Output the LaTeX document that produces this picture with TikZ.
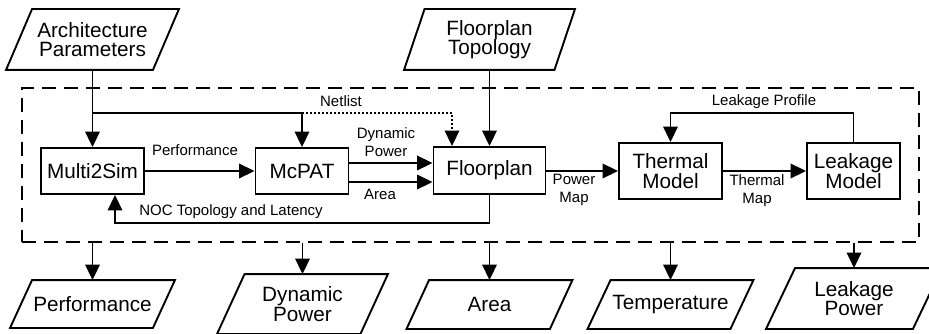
\documentclass[tikz,border=0pt]{standalone}
\usepackage{fontspec}
\setmainfont{Liberation Sans}
\usetikzlibrary{arrows.meta}
\newcommand\pgram[2]{\draw ([xshift=-#2]#1.south west) -- ([xshift=-#2]#1.south east) -- ([xshift=#2]#1.north east) -- ([xshift=#2]#1.north west) -- cycle;}
\begin{document}
\begin{tikzpicture}[x=1pt,y=-1pt,line width=1.9pt,line join=miter,
  big/.style={font=\fontsize{20.7}{19.5}\selectfont, align=center, inner sep=0pt},
  lbl/.style={font=\fontsize{15}{18}\selectfont, align=center, inner sep=0pt},
  blk/.style={draw, big},
  pg/.style={big},
  arr/.style={-{Triangle[length=15.5pt,width=14.5pt]}},
  frame/.style={draw, dash pattern=on 14pt off 8pt, inner sep=0pt},
  dots/.style={dash pattern=on 1.8pt off 2.2pt}]
\useasboundingbox (0,0) rectangle (929,334);
% frame
\node[frame, minimum width=897pt, minimum height=154pt] (frame) at (470.5,165) {};
% inputs
\node[pg, minimum width=145pt, minimum height=59pt] (ap) at (92.5,39.5) {Architecture\\Parameters};
\pgram{ap}{13pt}
\node[pg, minimum width=148.5pt, minimum height=59pt] (ft) at (489.5,39.5) {Floorplan\\Topology};
\pgram{ft}{10.25pt}
% blocks
\node[blk, minimum width=103pt, minimum height=46pt] (m2s) at (92.5,171) {Multi2Sim};
\node[blk, minimum width=93pt, minimum height=46pt] (mcpat) at (302,171) {McPAT};
\node[blk, minimum width=112pt, minimum height=47pt] (fp) at (489.5,170.5) {Floorplan};
\node[blk, minimum width=103pt, minimum height=56pt] (tm) at (670.5,171) {Thermal\\Model};
\node[blk, minimum width=93pt, minimum height=56pt] (lm) at (853.5,171) {Leakage\\Model};
% outputs
\node[pg, minimum width=141pt, minimum height=46pt] (perf) at (92.5,304) {Performance};
\pgram{perf}{11pt}
\node[pg, minimum width=141.5pt, minimum height=58pt] (dp) at (302.5,304) {Dynamic\\Power};
\pgram{dp}{13.75pt}
\node[pg, minimum width=141.5pt, minimum height=47pt] (area) at (489.5,304.5) {Area};
\pgram{area}{11.25pt}
\node[pg, minimum width=141pt, minimum height=47pt] (temp) at (670.5,304.5) {Temperature};
\pgram{temp}{11.5pt}
\node[pg, minimum width=145pt, minimum height=59pt] (lp) at (854,298.5) {Leakage\\Power};
\pgram{lp}{14.5pt}
% junctions
\coordinate (j1) at (ap.south |- 0,113);
\coordinate (j2) at (mcpat.north |- 0,113);
\coordinate (j3) at (452,113);
% connectors
\draw[arr] (ap.south) -- (m2s.north);
\draw (j1) -- (j2);
\draw[arr] (j2) -- (mcpat.north);
\draw[arr, dots] (j2) -- (j3) -- (j3 |- fp.north);
\draw[arr] (ft.south) -- (fp.north);
\draw[arr] (m2s) -- (mcpat);
\draw[arr] (mcpat.east |- 0,163) -- (fp.west |- 0,163);
\draw[arr] (mcpat.east |- 0,182) -- (fp.west |- 0,182);
\draw[arr] (fp.east |- tm) -- (tm.west);
\draw[arr] (tm) -- (lm);
\draw[arr] (lm.north) -- (lm.north |- 0,113) -| (tm.north);
\draw[arr] (fp.south) -- (fp.south |- 0,223) -| ([xshift=22.5pt]m2s.south);
\foreach \n in {perf,dp,area,temp,lp}
  \draw[arr] (\n.north |- frame.south) -- (\n.north);
% labels
\node[lbl] (lnet) at (341,101) {Netlist};
\node[lbl] (lperf) at (195,150) {Performance};
\node[lbl] (ldp) at (386,142) {Dynamic\\Power};
\node[lbl] (larea) at (380,194) {Area};
\node[lbl] (lnoc) at (231,212) {NOC Topology and Latency};
\node[lbl] (lpm) at (574,190) {Power\\Map};
\node[lbl] (ltm) at (757,191) {Thermal\\Map};
\node[lbl] (llp) at (764,102) {Leakage Profile};
\end{tikzpicture}
\end{document}
